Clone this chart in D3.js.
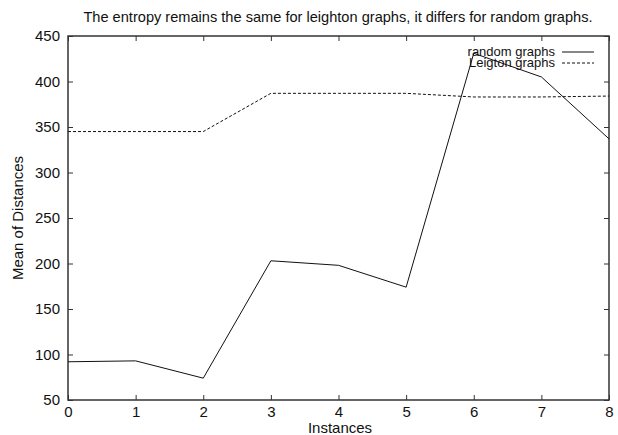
<!DOCTYPE html>
<html>
<head>
<meta charset="utf-8">
<script src="https://d3js.org/d3.v7.min.js"></script>
<style>
  body { margin: 0; background: #fff; }
  text { font-family: "Liberation Sans", Arial, sans-serif; fill: #111; }
</style>
</head>
<body>
<div class="chart"></div>
<script>
// data
var instances = [0, 1, 2, 3, 4, 5, 6, 7, 8];
var randomGraphs = [92, 93, 74, 203, 198, 174, 431, 405, 337];
var leightonGraphs = [345, 345, 345, 387, 387, 387, 383, 383, 384];
var yTicks = [50, 100, 150, 200, 250, 300, 350, 400, 450];
var seriesNames = ["random graphs", "Leigton graphs"];
var titleText = "The entropy remains the same for leighton graphs, it differs for random graphs.";

var width = 618, height = 435;
var margin = { top: 36, right: 9, bottom: 35, left: 68 };

var svg = d3.select(".chart").append("svg")
    .attr("width", width)
    .attr("height", height);

var x = d3.scaleLinear().domain([0, 8]).range([margin.left, width - margin.right]);
var y = d3.scaleLinear().domain([50, 450]).range([height - margin.bottom, margin.top]);

//frame
svg.append("rect")
    .attr("x", x(0))
    .attr("y", y(450))
    .attr("width", x(8) - x(0))
    .attr("height", y(50) - y(450))
    .attr("fill", "none")
    .attr("stroke", "#333")
    .attr("stroke-width", 1.5);

//axes with inward ticks on all four sides
function styleAxis(g) {
    g.select(".domain").remove();
    g.selectAll(".tick line").attr("stroke", "#333").attr("stroke-width", 1);
    g.selectAll(".tick text").style("font-size", "15px").attr("fill", "#111");
}

svg.append("g")
    .attr("transform", "translate(0," + y(50) + ")")
    .call(d3.axisBottom(x).tickValues(instances).tickFormat(d3.format("d")).tickSizeInner(-5).tickPadding(6))
    .call(styleAxis);

svg.append("g")
    .attr("transform", "translate(0," + y(450) + ")")
    .call(d3.axisTop(x).tickValues(instances).tickSizeInner(-5).tickFormat(""))
    .call(styleAxis);

svg.append("g")
    .attr("transform", "translate(" + x(0) + ",0)")
    .call(d3.axisLeft(y).tickValues(yTicks).tickSizeInner(-5).tickPadding(8))
    .call(styleAxis);

svg.append("g")
    .attr("transform", "translate(" + x(8) + ",0)")
    .call(d3.axisRight(y).tickValues(yTicks).tickSizeInner(-5).tickFormat(""))
    .call(styleAxis);

//series
var line = d3.line()
    .x(function(d, i) { return x(instances[i]); })
    .y(function(d) { return y(d); });

svg.append("path")
    .datum(randomGraphs)
    .attr("d", line)
    .attr("fill", "none")
    .attr("stroke", "#111")
    .attr("stroke-width", 1);

svg.append("path")
    .datum(leightonGraphs)
    .attr("d", line)
    .attr("fill", "none")
    .attr("stroke", "#111")
    .attr("stroke-width", 1)
    .attr("stroke-dasharray", "3,2");

//legend
var legend = svg.append("g");
seriesNames.forEach(function(name, i) {
    var ly = 52 + i * 11;
    legend.append("text")
        .attr("x", 555)
        .attr("y", ly + 4)
        .attr("text-anchor", "end")
        .style("font-size", "13px")
        .text(name);
    legend.append("line")
        .attr("x1", 562).attr("x2", 594)
        .attr("y1", ly).attr("y2", ly)
        .attr("stroke", "#111")
        .attr("stroke-width", 1)
        .attr("stroke-dasharray", i == 1 ? "3,2" : null);
});

//title and labels
svg.append("text")
    .attr("x", 338)
    .attr("y", 22)
    .attr("text-anchor", "middle")
    .style("font-size", "14.6px")
    .text(titleText);

svg.append("text")
    .attr("x", 340)
    .attr("y", 433)
    .attr("text-anchor", "middle")
    .style("font-size", "15px")
    .text("Instances");

svg.append("text")
    .attr("transform", "translate(23," + ((y(50) + y(450)) / 2) + ") rotate(-90)")
    .attr("text-anchor", "middle")
    .style("font-size", "15px")
    .text("Mean of Distances");
</script>
</body>
</html>
